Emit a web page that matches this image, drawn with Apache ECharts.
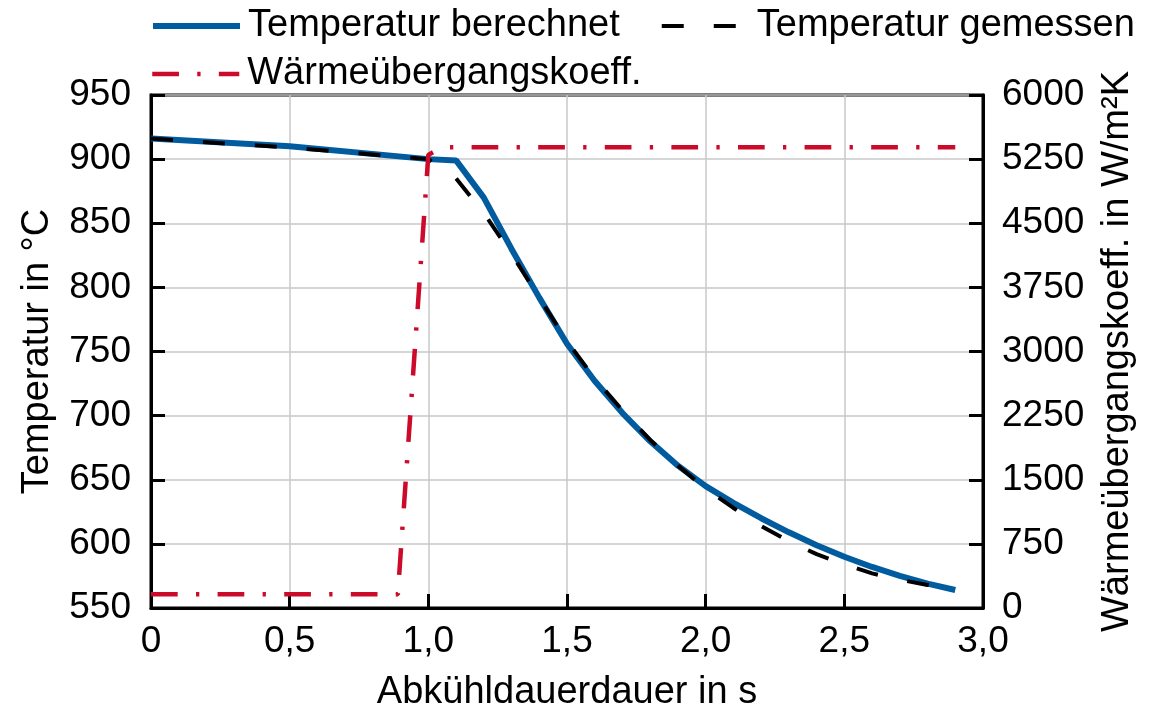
<!DOCTYPE html>
<html>
<head>
<meta charset="utf-8">
<script src="https://cdn.jsdelivr.net/npm/echarts@6/dist/echarts.min.js"></script>
<style>
  html, body { margin: 0; padding: 0; background: #fff; }
  #main { width: 1170px; height: 712px; }
</style>
</head>
<body>
<div id="main"></div>
<script>
// Abkühlkurve: berechnet vs. gemessen, plus Wärmeübergangskoeffizient
var timeCalc = [0, 0.5, 1.0, 1.1, 1.2, 1.3, 1.4, 1.5, 1.6, 1.7, 1.8, 1.9, 2.0, 2.1, 2.2, 2.3, 2.4, 2.5, 2.6, 2.7, 2.8, 2.9];
var tempCalc = [916, 910, 900, 899, 870, 830, 792, 756, 727, 702, 680, 661, 645, 632, 620, 609, 599, 590, 582, 575, 569, 564];

var timeMeas = [0, 0.5, 1.0, 1.1, 1.2, 1.3, 1.4, 1.5, 1.6, 1.7, 1.8, 1.9, 2.0, 2.1, 2.2, 2.3, 2.4, 2.5, 2.6, 2.7, 2.8, 2.9];
var tempMeas = [916, 909, 900, 885, 858, 826, 792, 758, 729, 704, 681, 661, 643, 628, 614, 602, 592, 584, 577, 572, 568, 565];

var timeHtc = [0, 0.89, 1.0, 1.05, 2.9];
var htc = [160, 160, 5300, 5390, 5390];

var xTicks = { min: 0, max: 3, step: 0.5 };
var tempTicks = { min: 550, max: 950, step: 50 };
var htcTicks = { min: 0, max: 6000, step: 750 };

function pairs(xs, ys) {
	var out = [];
	for (var i = 0; i < xs.length; i++) {
		out.push([xs[i], ys[i]]);
	}
	return out;
}

var font = "'Liberation Sans', Arial, sans-serif";
var axisCommon = {
	axisLine: { show: true, lineStyle: { color: '#000', width: 3 } },
	axisTick: { show: true, inside: true, length: 14, lineStyle: { color: '#000', width: 3 } },
	nameTextStyle: { fontSize: 38, color: '#000', fontFamily: font }
};

var legendText = { fontSize: 38, color: '#000', fontFamily: font, padding: [0, 0, 0, 3] };
var legendCommon = {
	left: 150,
	padding: 0,
	itemWidth: 87, itemHeight: 20,
	itemStyle: { opacity: 0 },
	lineStyle: { width: 'inherit', type: 'inherit', color: 'inherit' },
	textStyle: legendText
};

var option = {
	animation: false,
	backgroundColor: '#fff',
	textStyle: { fontFamily: font },
	legend: [
		Object.assign({}, legendCommon, {
			data: ['Temperatur berechnet', 'Temperatur gemessen'],
			top: 7, itemGap: 40
		}),
		Object.assign({}, legendCommon, {
			data: ['Wärmeübergangskoeff.'],
			top: 55
		})
	],
	grid: {
		left: 151, right: 187, top: 95, bottom: 104,
		show: true, borderColor: '#000', borderWidth: 3,
		outerBoundsMode: 'none'
	},
	series: [
		{
			name: 'Temperatur berechnet',
			type: 'line',
			yAxisIndex: 0,
			symbol: 'none',
			lineStyle: { color: '#005b9f', width: 6 },
			itemStyle: { color: '#005b9f' },
			data: pairs(timeCalc, tempCalc)
		},
		{
			name: 'Temperatur gemessen',
			type: 'line',
			yAxisIndex: 0,
			symbol: 'none',
			lineStyle: { color: '#000', width: 4, type: [22, 30] },
			itemStyle: { color: '#000' },
			data: pairs(timeMeas, tempMeas)
		},
		{
			name: 'Wärmeübergangskoeff.',
			type: 'line',
			yAxisIndex: 1,
			symbol: 'none',
			lineStyle: { color: '#cc0a2a', width: 4.5, type: [26.7, 18.3, 3.3, 18.3] },
			itemStyle: { color: '#cc0a2a' },
			data: pairs(timeHtc, htc)
		}
	]
};

option.xAxis = Object.assign({}, axisCommon, {
	type: 'value',
	min: xTicks.min, max: xTicks.max, interval: xTicks.step,
	name: 'Abkühldauerdauer in s',
	nameLocation: 'middle',
	nameGap: 66,
	axisLabel: {
		margin: 15, fontSize: 37, color: '#000', fontFamily: font,
		formatter: function (v) {
			return v === 0 ? '0' : v.toFixed(1).replace('.', ',');
		}
	},
	splitLine: { show: true, lineStyle: { color: '#c8c8c8', width: 1.5 } }
});

option.yAxis = [
	Object.assign({}, axisCommon, {
		type: 'value',
		position: 'left',
		min: tempTicks.min, max: tempTicks.max, interval: tempTicks.step,
		name: 'Temperatur in °C',
		nameLocation: 'middle',
		nameRotate: 90,
		nameGap: 94,
		axisLabel: { margin: 20, fontSize: 37, color: '#000', fontFamily: font },
		splitLine: { show: true, lineStyle: { color: '#c8c8c8', width: 1.5 } }
	}),
	Object.assign({}, axisCommon, {
		type: 'value',
		position: 'right',
		min: htcTicks.min, max: htcTicks.max, interval: htcTicks.step,
		name: 'Wärmeübergangskoeff. in W/m²K',
		nameLocation: 'middle',
		nameRotate: 90,
		nameGap: 116,
		axisLabel: {
			margin: 19, fontSize: 37, color: '#000', fontFamily: font,
			formatter: function (v) { return String(v); }
		},
		splitLine: { show: false }
	})
];

var chart = echarts.init(document.getElementById('main'));
chart.setOption(option);
</script>
</body>
</html>
